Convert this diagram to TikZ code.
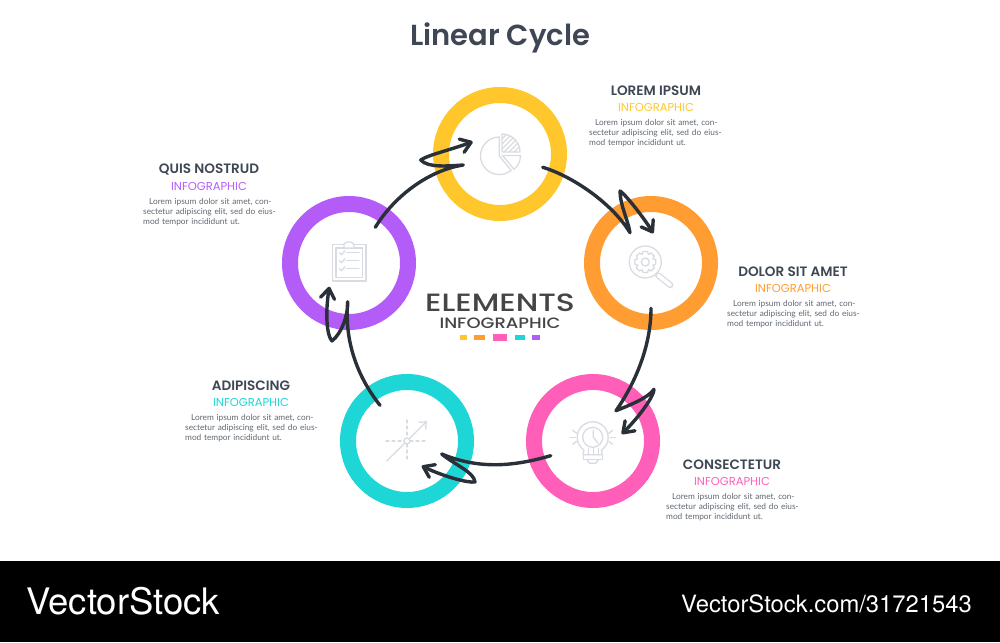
\documentclass[tikz,border=0pt]{standalone}
\usepackage{fontspec}
\setmainfont{Lato}
\newfontfamily\headfont{Poppins}[BoldFont={Poppins SemiBold}]
\newfontfamily\widefont{Poppins Medium}[FakeStretch=1.2]
\newfontfamily\widerfont{Poppins Medium}[FakeStretch=1.25]
\newfontfamily\markfont{TeX Gyre Heros}
\usepackage{xcolor}
\usetikzlibrary{arrows.meta,positioning}

\definecolor{cyellow}{HTML}{FFC72C}
\definecolor{corange}{HTML}{FF9D33}
\definecolor{cpink}{HTML}{FF5FB8}
\definecolor{cteal}{HTML}{1FD6D6}
\definecolor{cpurple}{HTML}{B45CF8}
\definecolor{cdark}{HTML}{3E4753}
\definecolor{cbody}{HTML}{5F6672}
\definecolor{cline}{HTML}{2A3038}
\definecolor{cicon}{HTML}{D8DBE1}

\newcommand{\loremtext}{%
  \makebox[132pt][s]{\hspace*{6pt}Lorem ipsum dolor sit amet, con-}\\
  \makebox[132pt][s]{sectetur adipiscing elit, sed do eius-}\\
  mod tempor incididunt ut.}

\tikzset{
  ring/.style={circle, draw=#1, line width=16pt, minimum size=118pt, inner sep=0pt},
  cycle line/.style={draw=cline, line width=3.4pt, line cap=round, line join=round,
    -{Straight Barb[length=10pt, width=14pt, line width=3.4pt, round]}},
  icon/.style={draw=cicon, line width=1.3pt, line join=round, line cap=round},
  head/.style={font=\headfont\bfseries\fontsize{13.6}{15}\selectfont, text=cdark, inner sep=0pt},
  sub/.style={font=\headfont\fontsize{11.5}{13}\selectfont, inner sep=0pt},
  lorem/.style={font=\fontsize{8.3}{10}\selectfont, text=cbody, align=left, inner sep=0pt, text width=132pt},
  chip/.style={fill=#1, draw=none},
}

\begin{document}
\begin{tikzpicture}[x=1pt, y=-1pt]
  \useasboundingbox (0,0) rectangle (1000,642);

  \node[font=\headfont\bfseries\fontsize{29}{32}\selectfont, text=cdark, inner sep=0pt] (title) at (500,38) {Linear Cycle};

  % rings
  \node[ring=cyellow] (pie) at (500,154) {};
  \node[ring=corange] (gear) at (651,263) {};
  \node[ring=cpink] (bulb) at (593,441) {};
  \node[ring=cteal] (chart) at (407,441) {};
  \node[ring=cpurple] (clip) at (349,263) {};

  % centre text
  \node[font=\widerfont\fontsize{25}{27}\selectfont, text=black!73, inner sep=0pt] (elements) at (500,303) {ELEMENTS};
  \node[font=\widefont\fontsize{15}{16}\selectfont, text=black!73, inner sep=0pt] (infographic) at (500,323) {INFOGRAPHIC};
  \fill[chip=cyellow] (460,335) rectangle (467,339.5);
  \fill[chip=corange] (474,335) rectangle (485,339.5);
  \fill[chip=cpink] (493,333.5) rectangle (507,340.5);
  \fill[chip=cteal] (515,335) rectangle (525,339.5);
  \fill[chip=cpurple] (532,335) rectangle (540,339.5);

  % text blocks
  \foreach \nm/\cx/\cy/\lx/\ttl/\col in {
    lorem/656/91/589/LOREM IPSUM/cyellow,
    dolor/793/272/727/DOLOR SIT AMET/corange,
    consect/732/465/666/CONSECTETUR/cpink,
    adipis/251/386/185/ADIPISCING/cteal,
    quis/209/170/143/QUIS NOSTRUD/cpurple}
  {
    \node[head] (\nm head) at (\cx,\cy) {\ttl};
    \node[sub, text=\col] (\nm sub) at (\cx,\cy+16.5) {INFOGRAPHIC};
    \node[lorem, anchor=north west] (\nm text) at (\lx,\cy+28) {\loremtext};
  }

  % pie icon
  \begin{scope}[shift={(pie)}]
    \draw[icon] (-0.7,-17) arc[start angle=90, end angle=309, radius=18.8pt] -- (-0.7,1.8) -- cycle;
    \draw[icon] (2,-20) arc[start angle=90, end angle=0, radius=18pt] -- (2,-2) -- cycle;
    \begin{scope}
      \clip (2,-20) arc[start angle=90, end angle=0, radius=18pt] -- (2,-2) -- cycle;
      \foreach \d in {-14,-9,-4,1,6,11,16}
        \draw[icon, line width=1.1pt] (\d-6,2) -- (\d+18,-22);
    \end{scope}
    \draw[icon] (2.5,1.5) -- (20.5,1.5) arc[start angle=0, end angle=-50, radius=18pt] -- cycle;
  \end{scope}

  % magnifier icon
  \begin{scope}[shift={(645.3,262)}]
    \draw[icon] (0,0) circle[radius=16pt];
    \draw[icon] (0,0) circle[radius=4pt];
    \foreach \a in {0,45,...,315}
      \draw[icon, rotate=\a] (-3.2,7.6) -- (-2.2,10.5) -- (2.2,10.5) -- (3.2,7.6);
    \draw[icon] (11,11) -- (12,12);
    \draw[icon, double=white, double distance=3.6pt] (13,13.5) -- (25,23);
  \end{scope}

  % bulb icon
  \begin{scope}[shift={(592.7,437.3)}]
    \draw[icon] (-8.9,12.7) arc[start angle=235, end angle=-55, radius=15.5pt];
    \draw[icon] (0,0) circle[radius=10pt];
    \draw[icon] (0.5,-7) -- (0.5,0) -- (5.5,6);
    \draw[icon] (-8.9,12.7) -- (-9.5,17.5) -- (9.5,17.5) -- (8.9,12.7);
    \draw[icon] (-9.5,17.5) -- (-9.5,22) -- (9.5,22) -- (9.5,17.5);
    \draw[icon] (-6,22) -- (-3,26) -- (3,26) -- (6,22);
    \foreach \x in {-4.5,0.5,5.5}
      \draw[icon] (\x,11) -- (\x,17.5);
    \foreach \s in {-1,1}
    {
      \draw[icon] (\s*17.5,0) -- (\s*22.5,0);
      \draw[icon] (\s*16,-4) -- (\s*20,-7);
      \draw[icon] (\s*16,4) -- (\s*20,7);
    }
  \end{scope}

  % chart icon
  \begin{scope}[shift={(chart)}]
    \draw[icon, dashed] (-21,0) -- (20.5,0);
    \draw[icon, dashed] (0,-21) -- (0,20.5);
    \draw[icon, fill=white] (0,0) circle[radius=3pt];
    \draw[icon] (-20.3,20) -- (-2.2,2.2);
    \draw[icon, -{Straight Barb[length=6pt, width=10pt]}] (2.2,-2.2) -- (20,-20);
  \end{scope}

  % clipboard icon
  \begin{scope}[shift={(clip)}]
    \draw[icon] (-16.3,-18.7) rectangle (17,18);
    \draw[icon] (-13,-15) rectangle (13.7,14.7);
    \draw[icon, fill=white] (-5,-15) -- (-5,-19) -- (-2,-21) -- (2,-21) -- (5,-19) -- (5,-15) -- cycle;
    \foreach \yy/\xe in {-10.3/10,-2.3/10,5.7/10}
    {
      \draw[icon] (-9.5,\yy) -- (-7.5,\yy+2) -- (-4,\yy-2);
      \draw[icon] (-2.3,\yy) -- (\xe,\yy);
    }
  \end{scope}

  % free ends of the arrows
  \coordinate (pie out) at (542.7,167.3);
  \coordinate (gear in) at (653.3,233.3);
  \coordinate (gear out) at (651,308.3);
  \coordinate (bulb in) at (621.7,434);
  \coordinate (bulb out) at (550.7,455.7);
  \coordinate (chart in) at (421.7,466);
  \coordinate (chart out) at (380,405.3);
  \coordinate (clip in) at (329.3,286.7);
  \coordinate (clip out) at (375.3,227.3);
  \coordinate (pie in) at (472.7,141.7);

  % arrows
  \draw[cycle line] (pie out) .. controls (572,176) and (612,203) .. (630,232.7)
    .. controls (628,220) and (620,205) .. (620,191)
    .. controls (626,195) and (644,218) .. (gear in);
  \draw[cycle line] (gear out) .. controls (651,345) and (636,382) .. (616,410.7)
    .. controls (630,405) and (648,398) .. (654,389.3)
    .. controls (654,396) and (640,416) .. (bulb in);
  \draw[cycle line] (bulb out) .. controls (515,466) and (480,470) .. (441.7,454)
    .. controls (455,465) and (474,472) .. (475,482)
    .. controls (468,483) and (445,477) .. (chart in);
  \draw[cycle line] (chart out) .. controls (360,380) and (344,345) .. (347.7,301.7)
    .. controls (348,315) and (342,333) .. (332,341)
    .. controls (327,336) and (325,315) .. (clip in);
  \draw[cycle line] (clip out) .. controls (395,195) and (430,170) .. (463.3,165)
    .. controls (448,166) and (428,168) .. (420.7,160)
    .. controls (428,155) and (450,150) .. (pie in);

  % footer
  \fill[black] (0,561) rectangle (1000,642);
  \node[font=\markfont\fontsize{36.5}{38}\selectfont, text=white, inner sep=0pt, anchor=west] (brand) at (26,601) {VectorStock};
  \node[font=\markfont\fontsize{23.8}{26}\selectfont, text=white, inner sep=0pt, anchor=east] (stockid) at (972,604) {VectorStock.com/31721543};
\end{tikzpicture}
\end{document}
